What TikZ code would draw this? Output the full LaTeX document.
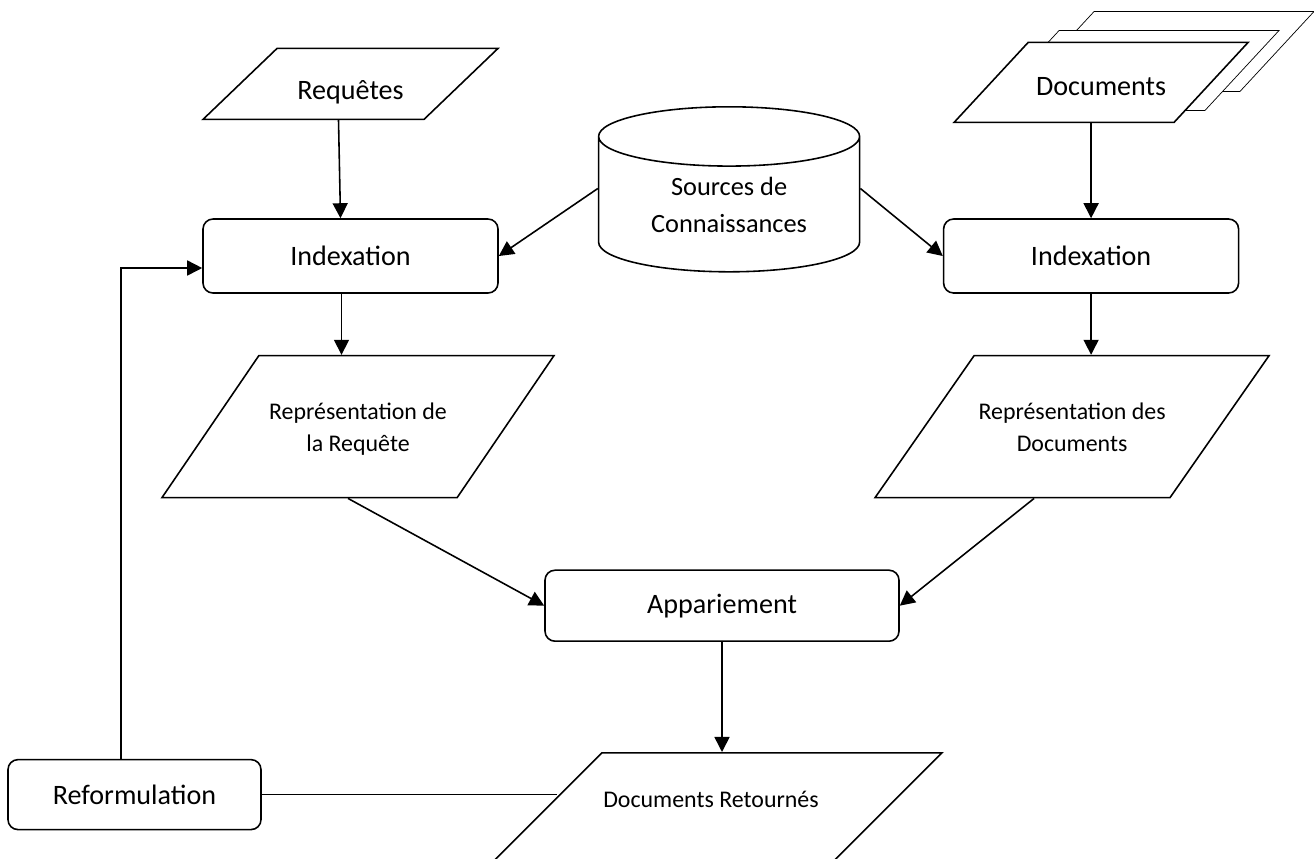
\documentclass[tikz,border=0pt]{standalone}
\usepackage{fontspec}
\setmainfont{Carlito}
\usetikzlibrary{arrows.meta, positioning, shapes.geometric, backgrounds}

\begin{document}
\begin{tikzpicture}[line width=0.9pt, >={Triangle[length=0.3cm, width=0.3cm]},
    proc/.style={draw, rectangle, rounded corners=0.2cm, minimum width=5.9cm, minimum height=1.48cm, inner sep=0pt, font=\fontsize{16}{19}\selectfont},
    io/.style={draw, trapezium, trapezium left angle=#1, trapezium right angle=180-#1, trapezium stretches body, inner sep=0pt, fill=white, align=center, font=\fontsize{13.6}{18}\selectfont},
    base/.style={draw, cylinder, shape border rotate=90, aspect=0.38, inner sep=0pt, align=center, font=\fontsize{15}{21}\selectfont}]
    \useasboundingbox (0,0) rectangle (26.28,-17.16);
    \clip (0,0) rectangle (26.28,-17.16);

    % Indexation
    \node[proc] (idxq) at (7.01,-5.12) {Indexation};
    \node[proc, right=8.88cm of idxq] (idxd) {Indexation};
    \node[base, minimum width=5.22cm, minimum height=3.3cm, right=1.98cm of idxq, yshift=1.03cm] (src) {Sources de\\Connaissances};

    % Entrees
    \node[io=43.8, minimum width=5.9cm, text height=1.02cm, text depth=0.4cm, font=\fontsize{16}{19}\selectfont, above=1.96cm of idxq] (rq) {Requêtes};
    \node[io=47.2, minimum width=5.88cm, text height=1.06cm, text depth=0.54cm, font=\fontsize{16}{19}\selectfont, above=1.9cm of idxd, xshift=0.2cm] (docs) {Documents};
    \begin{scope}[on background layer]
        \node[io=47.2, minimum width=5.88cm, text height=1.06cm, text depth=0.54cm, xshift=1.32cm, yshift=0.62cm] (docs2) at (docs) {};
        \node[io=47.2, minimum width=5.88cm, text height=1.06cm, text depth=0.54cm, xshift=0.62cm, yshift=0.24cm] (docs1) at (docs) {};
    \end{scope}

    % Representations
    \node[io=55.7, minimum width=7.84cm, text height=1.92cm, text depth=0.92cm, below=1.22cm of idxq, xshift=0.15cm] (repq) {Représentation de\\la Requête};
    \node[io=55.1, minimum width=7.88cm, text height=1.92cm, text depth=0.92cm, below=1.22cm of idxd, xshift=-0.38cm] (repd) {Représentation des\\Documents};

    % Appariement et sortie
    \node[proc, minimum width=7.08cm, minimum height=1.42cm, below=1.42cm of repq, xshift=7.28cm] (app) {Appariement};
    \node[io=45, minimum width=9.24cm, text height=1.1cm, text depth=1.34cm, below=2.2cm of app, xshift=-0.22cm] (ret) {Documents Retournés};
    \node[proc, minimum width=5.06cm, minimum height=1.4cm, below=9.3cm of idxq, xshift=-4.32cm] (reform) {Reformulation};

    \draw[->] ([xshift=-0.24cm]rq.south) -- ([xshift=-0.2cm]idxq.north);
    \draw[->] (idxd.north |- docs.south) -- (idxd.north);
    \draw[->] ([yshift=0.32cm]src.west) -- (idxq.east);
    \draw[->] ([yshift=0.32cm]src.east) -- (idxd.west);
    \draw[->] ([xshift=-0.18cm]idxq.south) -- ++(0,-1.22cm);
    \draw[->] (idxd.south) -- (idxd.south |- repd.north);
    \draw[->] ([xshift=-0.2cm]repq.south) -- (app.west);
    \draw[->] ([xshift=-0.76cm]repd.south) -- (app.east);
    \draw[->] (app.south) -- (app.south |- ret.north);
    \draw[->] ([xshift=-0.27cm]reform.north) |- ([yshift=-0.24cm]idxq.west);
    \coordinate[xshift=-0.9cm] (retedge) at (ret.top left corner);
    \draw (reform.east) -- (reform.east -| retedge);
\end{tikzpicture}
\end{document}
